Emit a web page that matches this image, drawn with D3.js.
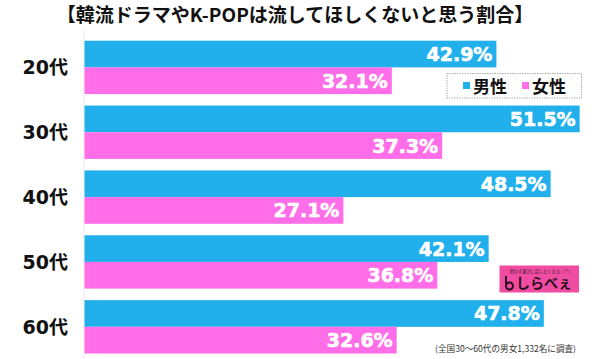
<!DOCTYPE html>
<html><head><meta charset="utf-8">
<script src="https://cdn.jsdelivr.net/npm/d3@7/dist/d3.min.js"></script>
<style>body{margin:0;background:#fff}svg{display:block}</style>
</head><body>
<script>
const categories = ["20代","30代","40代","50代","60代"];
const seriesNames = ["男性","女性"];
const maleValues = [42.9, 51.5, 48.5, 42.1, 47.8];
const femaleValues = [32.1, 37.3, 27.1, 36.8, 32.6];
const title = "【韓流ドラマやK-POPは流してほしくないと思う割合】";
const note = "(全国30〜60代の男女1,332名に調査)";

const W = 600, H = 359;
const colors = ["#22b0ec", "#ff6ee8"];
const svg = d3.select("body").append("svg").attr("width", W).attr("height", H);

const x = d3.scaleLinear().domain([0, 53.6]).range([81, 600]);
const barStart = 84.5;
const y = d3.scaleBand().domain(categories).range([40.7, 353.5]).paddingInner(0.177).paddingOuter(0);
const ySub = d3.scaleBand().domain(seriesNames).range([0, y.bandwidth()]);

const data = categories.map((c, i) => ({c, vals: [maleValues[i], femaleValues[i]]}));

svg.append("text").attr("x", 295).attr("y", 22).attr("text-anchor", "middle")
  .attr("font-family", "'Noto Sans CJK JP', sans-serif").attr("font-weight", "bold")
  .attr("font-size", 19).attr("fill", "#111").text(title);

// axis line
svg.append("line").attr("x1", 84).attr("x2", 84).attr("y1", 30).attr("y2", 359)
  .attr("stroke", "#eee8ea").attr("stroke-width", 1);

const g = svg.selectAll("g.grp").data(data).enter().append("g").attr("class","grp")
  .attr("transform", d => `translate(0,${y(d.c)})`);

g.selectAll("rect").data(d => d.vals.map((v, j) => ({v, s: seriesNames[j], j})))
  .enter().append("rect")
  .attr("x", barStart).attr("y", d => ySub(d.s))
  .attr("width", d => x(d.v) - barStart).attr("height", ySub.bandwidth())
  .attr("fill", d => colors[d.j]);

g.selectAll("text.val").data(d => d.vals.map((v, j) => ({v, s: seriesNames[j], j})))
  .enter().append("text").attr("class","val")
  .attr("x", d => x(d.v) - 4).attr("y", d => ySub(d.s) + ySub.bandwidth()/2 + 7)
  .attr("text-anchor", "end").attr("font-family", "'DejaVu Sans', sans-serif")
  .attr("font-weight", "bold").attr("font-size", 19).attr("fill", "#fff")
  .attr("stroke", "#fff").attr("stroke-width", 0.6)
  .text(d => d.v.toFixed(1) + "%");

svg.selectAll("text.cat").data(categories).enter().append("text").attr("class","cat")
  .attr("x", 68).attr("y", d => y(d) + y.bandwidth()/2 + 7)
  .attr("text-anchor", "end").attr("font-family", "'DejaVu Sans', 'Noto Sans CJK JP', sans-serif")
  .attr("font-weight", "bold").attr("font-size", 19).attr("fill", "#111").text(d => d);

// legend
const lg = svg.append("g");
lg.append("rect").attr("x", 447).attr("y", 73.5).attr("width", 134.5).attr("height", 24.5)
  .attr("fill", "#fff").attr("stroke", "#999").attr("stroke-width", 0.8).attr("stroke-dasharray", "1.5,1");
const lx = [463, 522];
seriesNames.forEach((s, i) => {
  lg.append("rect").attr("x", lx[i]).attr("y", 82).attr("width", 7).attr("height", 7).attr("fill", colors[i]);
  lg.append("text").attr("x", lx[i] + 10).attr("y", 92.5)
    .attr("font-family", "'Noto Sans CJK JP', sans-serif").attr("font-weight", "bold")
    .attr("font-size", 17).attr("fill", "#111").text(s);
});

// logo
const logo = svg.append("g");
logo.append("rect").attr("x", 499.5).attr("y", 265.5).attr("width", 79.5).attr("height", 27).attr("fill", "#f04ca2");
logo.append("text").attr("x", 541).attr("y", 272.5).attr("text-anchor", "middle")
  .attr("font-family", "'Noto Sans CJK JP', sans-serif").attr("font-size", 4.2).attr("fill", "#3a1a2a")
  .text("思わず誰かに話したくなる（？）");
logo.append("path").attr("d", "M506,276 L506,286 M506,286 a3.5,3.5 0 1,0 7,0 a3.5,3.5 0 1,0 -7,0")
  .attr("fill", "none").attr("stroke", "#2a1020").attr("stroke-width", 2);
logo.append("text").attr("x", 516).attr("y", 288)
  .attr("font-family", "'Noto Sans CJK JP', sans-serif").attr("font-weight", "bold")
  .attr("font-size", 14).attr("fill", "#2a1020").text("しらべぇ");

svg.append("text").attr("x", 576).attr("y", 352).attr("text-anchor", "end")
  .attr("font-family", "'Noto Sans CJK JP', sans-serif").attr("font-size", 8.6)
  .attr("fill", "#333").text(note);
</script>
</body></html>
